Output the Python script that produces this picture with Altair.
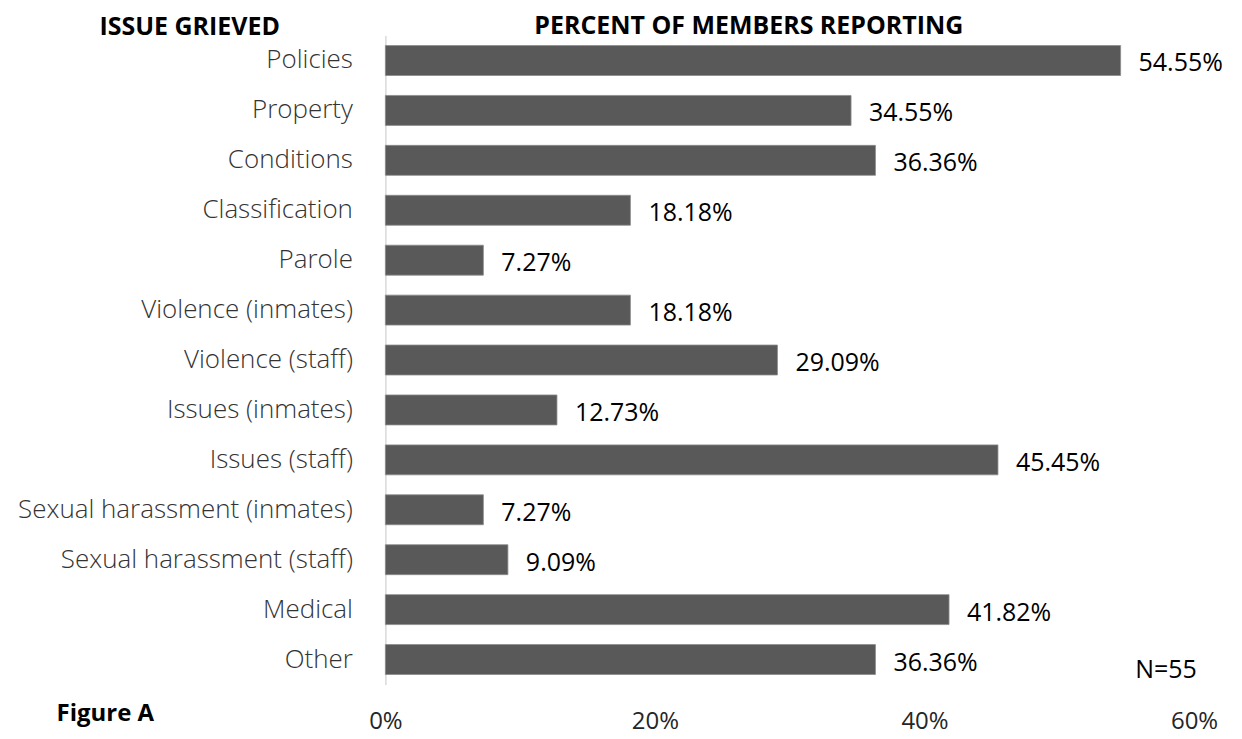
import altair as alt
import pandas as pd

categories = ["Policies", "Property", "Conditions", "Classification", "Parole",
              "Violence (inmates)", "Violence (staff)", "Issues (inmates)",
              "Issues (staff)", "Sexual harassment (inmates)",
              "Sexual harassment (staff)", "Medical", "Other"]
percents = [54.55, 34.55, 36.36, 18.18, 7.27, 18.18, 29.09, 12.73, 45.45,
            7.27, 9.09, 41.82, 36.36]
tick_values = [0, 0.2, 0.4, 0.6]
chart_title = "PERCENT OF MEMBERS REPORTING"
axis_heading = "ISSUE GRIEVED"
note_text = "N=55"

df = pd.DataFrame({"issue": categories, "share": [p / 100 for p in percents]})

FONT = "Open Sans"

y_enc = alt.Y(
    "issue:N", sort=categories,
    scale=alt.Scale(paddingInner=0.4, paddingOuter=0.2),
    axis=alt.Axis(
        title=None,
        labelFont=FONT, labelFontSize=26, labelFontWeight=300,
        labelColor="#333333", labelPadding=33, labelLimit=400,
        ticks=False, domain=True, domainColor="#d9d9d9", domainWidth=1.5,
        grid=False,
    ),
)
x_enc = alt.X(
    "share:Q", scale=alt.Scale(domain=[0, 0.6], nice=False),
    axis=alt.Axis(
        title="Figure A", titleX=-281, titleY=29, titleAlign="center",
        titleBaseline="middle", titleFont=FONT, titleFontSize=24,
        titleFontWeight="bold", titleColor="#000000",
        values=tick_values, format=".0%", labelFont=FONT, labelFontSize=24,
        labelColor="#262626", labelPadding=25, labelFlush=False,
        ticks=False, domain=False, grid=False,
    ),
)

bars = alt.Chart(df).mark_bar(color="#595959", stroke="#8c8c8c",
                              strokeWidth=0.8).encode(x=x_enc, y=y_enc)

labels = alt.Chart(df).mark_text(
    align="left", baseline="middle", dx=18, dy=3, font=FONT, fontSize=25,
    color="#000000",
).encode(x="share:Q", y=alt.Y("issue:N", sort=categories),
         text=alt.Text("share:Q", format=".2%"))

note = alt.Chart(pd.DataFrame({"t": [note_text]})).mark_text(
    align="center", baseline="middle", font=FONT, fontSize=25,
    color="#000000",
).encode(x=alt.value(782), y=alt.value(635), text="t:N")

head = alt.Chart(pd.DataFrame({"t": [chart_title]})).mark_text(
    align="center", baseline="middle", font=FONT, fontSize=25,
    fontWeight="bold", color="#000000",
).encode(x=alt.value(364), y=alt.value(-10), text="t:N")

left_head = alt.Chart(pd.DataFrame({"t": [axis_heading]})).mark_text(
    align="center", baseline="middle", font=FONT, fontSize=25,
    fontWeight="bold", color="#000000",
).encode(x=alt.value(-196), y=alt.value(-9), text="t:N")

chart = alt.layer(bars, labels, note, head, left_head).properties(
    width=810, height=650,
    autosize=alt.AutoSizeParams(type="none"),
    padding={"left": 378, "top": 27, "right": 40, "bottom": 52},
).configure_view(stroke=None)

chart.save("out.html", embed_options={"renderer": "svg", "actions": False})
